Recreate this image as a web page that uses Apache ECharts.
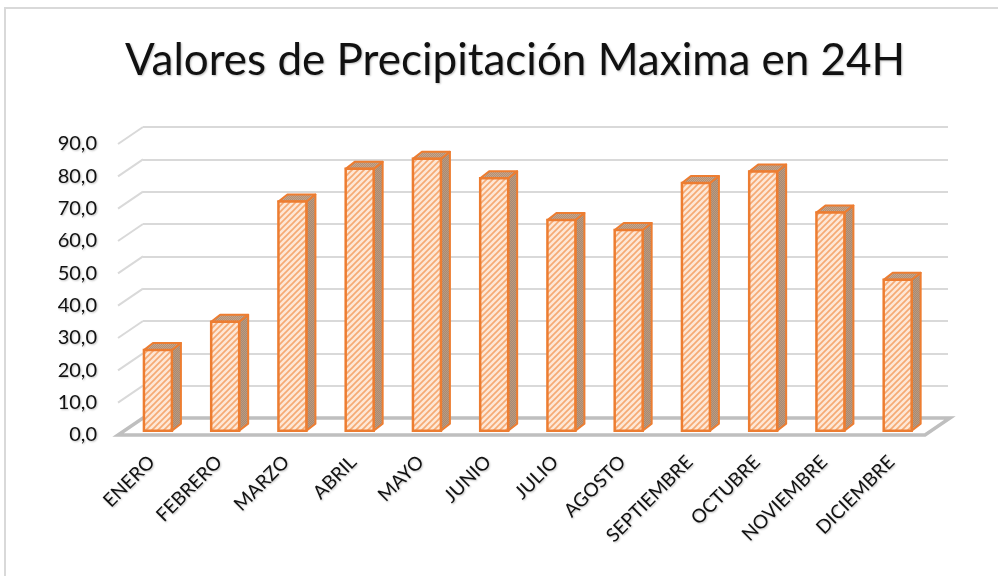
<!DOCTYPE html>
<html>
<head>
<meta charset="utf-8">
<script src="https://cdn.jsdelivr.net/npm/echarts@6/dist/echarts.min.js"></script>
<style>
  html, body { margin: 0; padding: 0; background: #fff; }
  #chart { width: 998px; height: 576px; }
</style>
</head>
<body>
<div id="chart"></div>
<script>
// datos
const months = ['ENERO', 'FEBRERO', 'MARZO', 'ABRIL', 'MAYO', 'JUNIO', 'JULIO',
  'AGOSTO', 'SEPTIEMBRE', 'OCTUBRE', 'NOVIEMBRE', 'DICIEMBRE']
const precip = [25.0, 33.7, 70.9, 81.0, 84.1, 78.1, 65.2, 62.1, 76.6, 80.2, 67.5, 46.7]
const yTicks = [0, 10, 20, 30, 40, 50, 60, 70, 80, 90]

const orange = '#ed7d31'
const gridGray = '#d9d9d9'
const floorGray = '#bfbfbf'
const font = 'Lato, "Noto Sans", sans-serif'

// tramas tipo Excel
function stripes(bg, fg, size, lw) {
  const c = document.createElement('canvas')
  c.width = c.height = size
  const ctx = c.getContext('2d')
  ctx.fillStyle = bg
  ctx.fillRect(0, 0, size, size)
  ctx.strokeStyle = fg
  ctx.lineWidth = lw
  ctx.beginPath()
  ctx.moveTo(0, size); ctx.lineTo(size, 0)
  ctx.moveTo(-2, 2); ctx.lineTo(2, -2)
  ctx.moveTo(size - 2, size + 2); ctx.lineTo(size + 2, size - 2)
  ctx.stroke()
  return { image: c, repeat: 'repeat' }
}
function dots(a, b) {
  const c = document.createElement('canvas')
  c.width = c.height = 2
  const ctx = c.getContext('2d')
  ctx.fillStyle = a; ctx.fillRect(0, 0, 2, 2)
  ctx.fillStyle = b; ctx.fillRect(0, 0, 1, 1); ctx.fillRect(1, 1, 1, 1)
  return { image: c, repeat: 'repeat' }
}
const frontFill = stripes('#fde7d6', '#f5aa74', 6, 1.7)
const sideFill = dots('#9e8b7c', '#c49a78')
const topFill = dots('#a8917f', '#d0a583')

// profundidad del "3D"
const DEPTH = [25, -17]
const BAR_DEPTH = [9, -7]

const chart = echarts.init(document.getElementById('chart'))

const txtShadow = {
  textShadowColor: 'rgba(0,0,0,0.25)',
  textShadowBlur: 2,
  textShadowOffsetX: 1,
  textShadowOffsetY: 1,
}

const option = {
  animation: false,
  title: {
    text: 'Valores de Precipitación Maxima en 24H',
    left: 120,
    top: 34,
    textStyle: Object.assign({
      fontFamily: font,
      fontSize: 44,
      fontWeight: 'normal',
      color: '#111',
    }, txtShadow),
  },
  graphic: [{
    type: 'rect',
    shape: { x: 5, y: 8, width: 1000, height: 600 },
    style: { fill: 'none', stroke: gridGray, lineWidth: 2 },
    silent: true,
  }],
  grid: [
    // plano frontal (etiquetas)
    { left: 118, right: 73, top: 144, bottom: 141 },
    // pared del fondo
    { left: 143, right: 50, top: 127, bottom: 158 },
    // plano de las barras
    { left: 124.3, right: 66.7, top: 139.75, bottom: 145.25 },
  ],
  xAxis: [
    {
      gridIndex: 0,
      type: 'category',
      data: months,
      axisLine: { show: false },
      axisTick: { show: false },
      axisLabel: Object.assign({
        interval: 0,
        rotate: 45,
        margin: 24,
        fontFamily: font,
        fontSize: 19,
        color: '#111',
      }, txtShadow),
    },
    { gridIndex: 1, type: 'value', min: 0, max: 1, show: false },
    { gridIndex: 2, type: 'category', data: months, show: false },
  ],
  yAxis: [
    {
      gridIndex: 0,
      type: 'value',
      min: 0,
      max: 90,
      interval: 10,
      axisLine: { show: false },
      axisTick: { show: false },
      splitLine: { show: false },
      axisLabel: Object.assign({
        margin: 21,
        fontFamily: font,
        fontSize: 20,
        color: '#111',
        formatter: v => v.toFixed(1).replace('.', ','),
      }, txtShadow),
    },
    {
      gridIndex: 1,
      type: 'value',
      min: 0,
      max: 90,
      interval: 10,
      axisLine: { show: false },
      axisTick: { show: false },
      axisLabel: { show: false },
      splitLine: { lineStyle: { color: gridGray, width: 2 } },
    },
    { gridIndex: 2, type: 'value', min: 0, max: 90, show: false },
  ],
  series: [
    {
      // lineas diagonales de la pared lateral
      type: 'custom',
      xAxisIndex: 1,
      yAxisIndex: 1,
      z: 1,
      silent: true,
      data: yTicks.map(v => [0, v]),
      renderItem(params, api) {
        const p = api.coord([0, api.value(1)])
        return {
          type: 'line',
          shape: { x1: p[0] - DEPTH[0], y1: p[1] - DEPTH[1], x2: p[0], y2: p[1] },
          style: { stroke: gridGray, lineWidth: 2 },
        }
      },
    },
    {
      // piso
      type: 'custom',
      xAxisIndex: 0,
      yAxisIndex: 0,
      z: 2,
      silent: true,
      data: [[0, 0]],
      renderItem(params, api) {
        const band = api.size([1, 0])[0]
        const l = api.coord([0, 0])
        const r = api.coord([months.length - 1, 0])
        const x1 = l[0] - band / 2, x2 = r[0] + band / 2, y = l[1]
        return {
          type: 'polygon',
          shape: { points: [[x1, y], [x2, y], [x2 + DEPTH[0], y + DEPTH[1]], [x1 + DEPTH[0], y + DEPTH[1]]] },
          style: { fill: 'none', stroke: floorGray, lineWidth: 3.5 },
        }
      },
    },
    {
      // barras 3D
      type: 'custom',
      xAxisIndex: 2,
      yAxisIndex: 2,
      z: 3,
      data: precip.map((v, i) => [i, v]),
      renderItem(params, api) {
        const bw = api.size([1, 0])[0] * 0.416
        const p0 = api.coord([api.value(0), 0])
        const p1 = api.coord([api.value(0), api.value(1)])
        const xl = p0[0] - bw / 2, xr = p0[0] + bw / 2
        const yb = p0[1], yt = p1[1]
        const dx = BAR_DEPTH[0], dy = BAR_DEPTH[1]
        return {
          type: 'group',
          children: [
            {
              type: 'polygon',
              shape: { points: [[xr, yb], [xr + dx, yb + dy], [xr + dx, yt + dy], [xr, yt]] },
              style: { fill: sideFill, stroke: orange, lineWidth: 2, lineJoin: 'round' },
            },
            {
              type: 'polygon',
              shape: { points: [[xl, yt], [xr, yt], [xr + dx, yt + dy], [xl + dx, yt + dy]] },
              style: { fill: topFill, stroke: orange, lineWidth: 2, lineJoin: 'round' },
            },
            {
              type: 'rect',
              shape: { x: xl, y: yt, width: bw, height: yb - yt },
              style: { fill: frontFill, stroke: orange, lineWidth: 2.5 },
            },
          ],
        }
      },
    },
  ],
}

chart.setOption(option)
window.addEventListener('resize', function () {
  chart && chart.resize()
})
</script>
</body>
</html>
